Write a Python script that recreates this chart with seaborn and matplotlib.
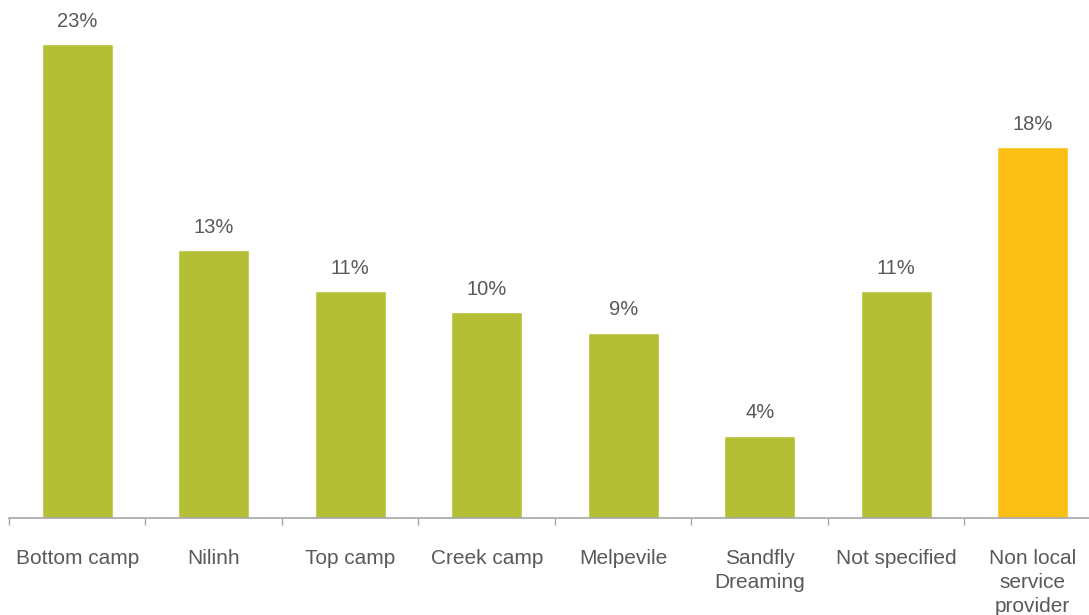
import numpy as np
import pandas as pd
import matplotlib
matplotlib.use('Agg')
import matplotlib.pyplot as plt
import seaborn as sns

categories = ['Bottom camp', 'Nilinh', 'Top camp', 'Creek camp', 'Melpevile',
              'Sandfly\nDreaming', 'Not specified', 'Non local\nservice\nprovider']
values = [23, 13, 11, 10, 9, 4, 11, 18]
bar_colors = ['#b5bf35'] * 7 + ['#fbbf13']

sns.set_style('white')
plt.rcParams['font.family'] = ['Liberation Sans', 'DejaVu Sans']

df = pd.DataFrame({'cat': categories, 'val': values})

fig = plt.figure(figsize=(10.89, 6.15), dpi=100)
# axes spans a bit past the right edge, as in the reference
ax = fig.add_axes([9 / 1089, (615 - 518) / 615, 1092 / 1089, 518 / 615])

sns.barplot(data=df, x='cat', y='val', hue='cat', palette=bar_colors,
            legend=False, width=0.52, saturation=1, ax=ax)

ax.set_ylim(0, 25.15)
ax.set_xlim(-0.5, len(categories) - 0.5)

for i, v in enumerate(values):
    ax.annotate(f'{v}%', (i, v), xytext=(0, 16.5), textcoords='offset points',
                ha='center', va='center', fontsize=14.5, color='#595959')

for s in ['top', 'right', 'left']:
    ax.spines[s].set_visible(False)
ax.spines['bottom'].set_color('#a6a6a6')
ax.spines['bottom'].set_linewidth(1.2)

ax.set_yticks([])
ax.set_xlabel('')
ax.set_ylabel('')
ax.set_xticks(range(len(categories)))
ax.set_xticklabels(categories, fontsize=15, color='#595959', linespacing=1.35)
ax.tick_params(axis='x', which='major', bottom=False, length=0, pad=22)
ax.set_xticks(np.arange(-0.5, len(categories)), minor=True)
ax.tick_params(axis='x', which='minor', bottom=True, length=5, width=1,
               color='#a6a6a6', direction='out')

plt.savefig('out.png', dpi=100)
